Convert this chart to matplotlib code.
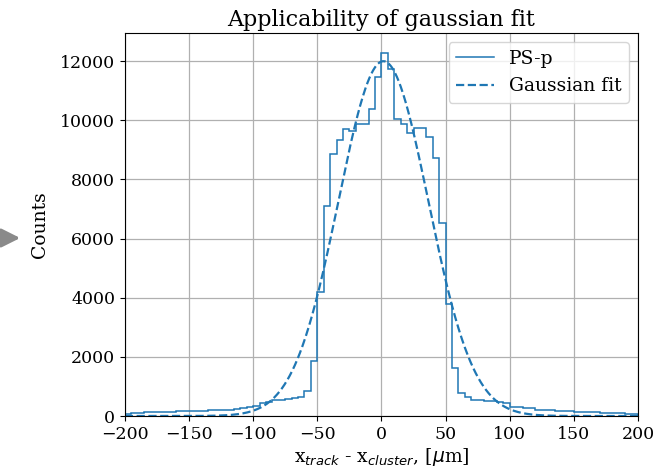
import numpy as np
import matplotlib
matplotlib.use("Agg")
import matplotlib.pyplot as plt

# histogram of residuals, 5 um bins from -200 to 200
bin_edges = np.arange(-200, 201, 5)

counts_left = [60, 90, 115, 125, 130, 140, 145, 150, 160, 165,
               170, 175, 180, 190, 200, 205, 215, 230, 255, 290,
               350, 430, 470, 530, 550, 580, 600, 650, 855, 1850]
counts_center = [4200, 7100, 8850, 9350, 9720, 9640, 9890, 9890, 10400, 11470,
                 12280, 11750, 10040, 9890, 9580, 9725, 9725, 9420, 8710, 6535]
counts_right = [3800, 1620, 790, 650, 540, 530, 505, 500, 460, 440,
                320, 310, 270, 255, 210, 200, 195, 175, 170, 165,
                130, 130, 125, 120, 115, 115, 110, 105, 80, 55]
counts = counts_left + counts_center + counts_right

# gaussian fit parameters
fit_amp = 12000
fit_mean = 1.5
fit_sigma = 35.0

plt.rcParams['font.family'] = ['DejaVu Serif']
plt.rcParams['mathtext.fontset'] = 'dejavusans'

fig = plt.figure(figsize=(6.64, 4.73), dpi=100)
ax = fig.add_axes([0.188, 0.1205, 0.773, 0.8095])

ax.stairs(counts, bin_edges, baseline=0, color='#1f77b4', lw=1.1, label='PS-p')

x = np.linspace(-200, 200, 801)
ax.plot(x, fit_amp * np.exp(-0.5 * ((x - fit_mean) / fit_sigma) ** 2),
        '--', color='#1f77b4', lw=1.6, label='Gaussian fit')

ax.set_xlim(-200, 200)
ax.set_ylim(0, 12950)
ax.set_xticks([-200, -150, -100, -50, 0, 50, 100, 150, 200])
ax.set_yticks([0, 2000, 4000, 6000, 8000, 10000, 12000])
ax.tick_params(labelsize=12.5)
ax.grid(True, color='#b0b0b0', lw=0.9)
ax.set_axisbelow(True)

ax.set_title('Applicability of gaussian fit', fontsize=16, pad=5)
ax.set_xlabel(r'x$_{track}$ - x$_{cluster}$, [$\mu$m]', fontsize=13.5, labelpad=2)
ax.set_ylabel('Counts', fontsize=13.5, labelpad=8)
ax.legend(loc='upper right', fontsize=13.5)

# gray arrow at the left edge
fig.add_artist(matplotlib.patches.FancyArrowPatch(
    (0.0, 1 - 238 / 473), (23 / 664, 1 - 238 / 473),
    transform=fig.transFigure, arrowstyle='-|>', mutation_scale=28,
    color='#8a8a8a', lw=2.5))

fig.savefig('out.png', dpi=100)
